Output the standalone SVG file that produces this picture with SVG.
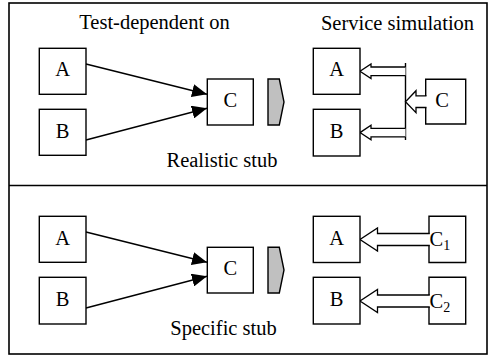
<svg xmlns="http://www.w3.org/2000/svg" width="489" height="356" viewBox="0 0 489 356">
<defs>
<style>
.frame{fill:none;stroke:#000;stroke-width:1.6}
.box{fill:#fff;stroke:#000;stroke-width:1.4}
.edge{fill:none;stroke:#000;stroke-width:1.4}
.blk{fill:#fff;stroke:#000;stroke-width:1.3;stroke-linejoin:miter}
.stub{fill:#c0c0c0;stroke:#000;stroke-width:1.4}
text{font-family:"Liberation Serif","Times New Roman",serif;font-size:20.5px;fill:#000}
.c{text-anchor:middle}
</style>
<marker id="ah" markerUnits="userSpaceOnUse" markerWidth="16" markerHeight="13" refX="15" refY="6.5" orient="auto">
<path d="M0,0 L15,6.5 L0,13 Z" fill="#000"/>
</marker>
</defs>
<rect class="frame" x="9" y="3" width="478" height="351"/>
<line class="frame" x1="9" y1="185.5" x2="487" y2="185.5"/>
<text class="c" x="154.5" y="29">Test-dependent on</text>
<text class="c" x="397.5" y="30">Service simulation</text>
<text class="c" x="222" y="167">Realistic stub</text>
<text class="c" x="223.5" y="335">Specific stub</text>
<g id="connectors">
<line class="edge" x1="86" y1="64" x2="207" y2="94.3" marker-end="url(#ah)"/>
<line class="edge" x1="86" y1="140" x2="207" y2="108.3" marker-end="url(#ah)"/>
<line class="edge" x1="86" y1="232" x2="207" y2="262.3" marker-end="url(#ah)"/>
<line class="edge" x1="86" y1="308" x2="207" y2="276.3" marker-end="url(#ah)"/>
<line class="edge" x1="405.5" y1="63" x2="405.5" y2="140"/>
<path class="blk" d="M405.5,67 H371 V64 L360,71.3 L371,78.6 V75.6 H405.5"/>
<path class="blk" d="M405.5,128.3 H371 V125.3 L360,132.6 L371,139.9 V136.9 H405.5"/>
<path class="blk" d="M426.5,95.9 H416 V90.7 L405.5,101.7 L416,112.7 V107.5 H426.5"/>
<path class="blk" d="M429.8,233.5 H377.5 V228 L360,239.5 L377.5,251 V245.5 H429.8"/>
<path class="blk" d="M429.8,295 H377.5 V289.5 L360,301 L377.5,312.5 V307 H429.8"/>
</g>
<g id="tl-A"><rect class="box" x="39.3" y="48.3" width="46.7" height="46"/><text class="c" x="62.7" y="76">A</text></g>
<g id="tl-B"><rect class="box" x="39.3" y="109.3" width="46.7" height="46"/><text class="c" x="62.7" y="137.5">B</text></g>
<g id="tl-C"><rect class="box" x="207.3" y="79" width="46" height="46"/><text class="c" x="230.3" y="107.3">C</text></g>
<g id="tl-stub"><polygon class="stub" points="268,79 279.3,79 284,102 279.3,125 268,125"/></g>
<g id="tr-A"><rect class="box" x="313.3" y="48.3" width="46.7" height="46"/><text class="c" x="336.7" y="76">A</text></g>
<g id="tr-B"><rect class="box" x="313.3" y="109.3" width="46.7" height="46.7"/><text class="c" x="336.7" y="137.5">B</text></g>
<g id="tr-C"><path class="edge" d="M425.7,95.9 V79.3 H465.7 V124 H425.7 V107.5"/><text class="c" x="442" y="107">C</text></g>
<g id="bl-A"><rect class="box" x="39.3" y="216.3" width="46.7" height="46"/><text class="c" x="62.7" y="244.5">A</text></g>
<g id="bl-B"><rect class="box" x="39.3" y="277.3" width="46.7" height="46.7"/><text class="c" x="62.7" y="305.5">B</text></g>
<g id="bl-C"><rect class="box" x="207.3" y="247.3" width="46" height="45.7"/><text class="c" x="230.3" y="275.3">C</text></g>
<g id="bl-stub"><polygon class="stub" points="268,247.3 279.3,247.3 284,270 279.3,293 268,293"/></g>
<g id="br-A"><rect class="box" x="313.3" y="216.3" width="46.7" height="46.2"/><text class="c" x="336.7" y="245">A</text></g>
<g id="br-B"><rect class="box" x="313.3" y="277.3" width="46.7" height="46.7"/><text class="c" x="336.7" y="306.3">B</text></g>
<g id="br-C1"><path class="edge" d="M429,233.5 V216.3 H465.7 V262.5 H429 V245.5"/><text x="429.5" y="246">C<tspan font-size="14" dy="4">1</tspan></text></g>
<g id="br-C2"><path class="edge" d="M429,295 V277.3 H465.7 V324 H429 V307"/><text x="429.5" y="308">C<tspan font-size="14" dy="3.5">2</tspan></text></g>
</svg>
